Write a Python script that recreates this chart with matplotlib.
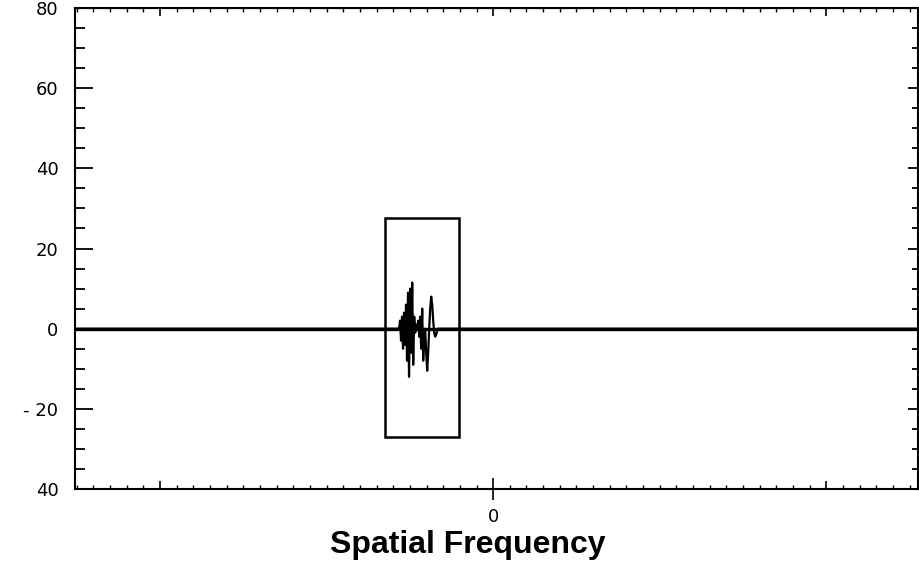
import matplotlib
matplotlib.use("Agg")
import matplotlib.pyplot as plt
from matplotlib.patches import Rectangle
from matplotlib.ticker import MultipleLocator

# signal (x in tick units, 0 = centre)
sig_x = [-25.1, -6.2, -5.65, -5.59, -5.53, -5.47, -5.41, -5.35, -5.29, -5.23, -5.17,
         -5.11, -5.05, -4.98, -4.92, -4.86, -4.80, -4.74, -4.68, -4.62, -4.56, -4.50,
         -4.44, -4.38, -4.32, -4.26, -4.20, -4.14, -4.08, -4.02, -3.96, -3.90, -3.84,
         -3.78, -3.72, -3.66, -3.60, -3.54, -3.48, -3.42, -3.36, -3.30, -3.24, -3.12, 25.5]
sig_y = [0, 0, 0, 2, -3, 3, -5, 4, -4, 6, -8,
         9, -12, 10, -6, 11.5, -9, 3, -1, 1, 0, 2,
         -2, 3, -5, 5, -8, -3, 0, -6, -10.5, -6, 0,
         5, 8, 6, 2, -1, -2, -1.5, -0.5, 0, 0, 0, 0]

box_x = [-6.49, -2.04]
box_y = [-27.1, 27.5]

y_ticks = [-40, -20, 0, 20, 40, 60, 80]
y_labels = ['40', '- 20', '0', '20', '40', '60', '80']
x_ticks = [-20, 0, 20]
x_labels = ['', '0', '']

fig = plt.figure(figsize=(9.2, 5.7), dpi=100)
ax = fig.add_axes([75 / 920, 81 / 570, 843 / 920, 481 / 570])

ax.axhline(0, color='black', lw=2.4)
ax.plot(sig_x, sig_y, color='black', lw=1.6)
ax.add_patch(Rectangle((box_x[0], box_y[0]), box_x[1] - box_x[0], box_y[1] - box_y[0],
                       fill=False, ec='black', lw=1.8))

ax.set_xlim(-25.1, 25.5)
ax.set_ylim(-40, 80)

for s in ax.spines.values():
    s.set_linewidth(1.5)

ax.set_yticks(y_ticks)
ax.set_yticklabels(y_labels, fontsize=13)
ax.yaxis.set_minor_locator(MultipleLocator(5))
ax.tick_params(axis='y', which='major', direction='in', length=13, width=1.3, pad=12)
ax.tick_params(axis='y', which='minor', direction='in', length=7, width=1.3)

ax.set_xticks(x_ticks)
ax.set_xticklabels(x_labels, fontsize=13)
ax.xaxis.set_minor_locator(MultipleLocator(1))
ax.tick_params(axis='x', which='major', direction='in', length=6, width=1.2, pad=14)
ax.tick_params(axis='x', which='minor', direction='in', length=3, width=1.0)
# the centre tick crosses the axis
zero_tick = ax.xaxis.get_major_ticks()[1]
zero_tick.tick1line.set_marker('|')
zero_tick.tick1line.set_markersize(16)

right = ax.secondary_yaxis('right')
right.set_yticks(y_ticks)
right.set_yticklabels([])
right.yaxis.set_minor_locator(MultipleLocator(5))
right.tick_params(which='major', direction='in', length=7, width=1.3)
right.tick_params(which='minor', direction='in', length=4, width=1.3)

top = ax.secondary_xaxis('top')
top.set_xticks(x_ticks)
top.set_xticklabels([])
top.xaxis.set_minor_locator(MultipleLocator(1))
top.tick_params(which='major', direction='in', length=6, width=1.2)
top.tick_params(which='minor', direction='in', length=3, width=1.0)

fig.text(468 / 920, 1 - 545 / 570, 'Spatial Frequency', fontsize=23, fontweight='bold',
         family='Liberation Sans', ha='center', va='center')

fig.savefig('out.png', dpi=100)
